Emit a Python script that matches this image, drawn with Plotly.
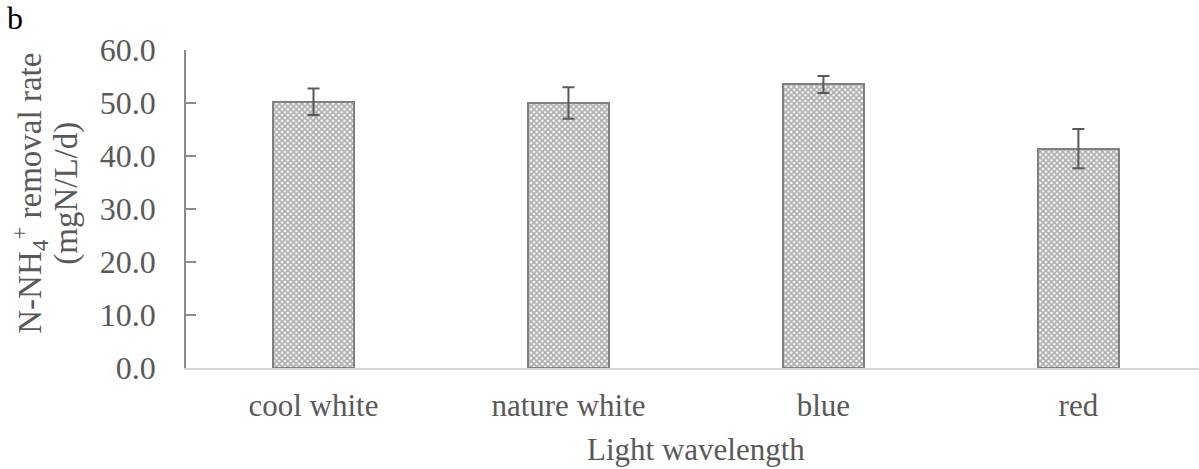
import plotly.graph_objects as go

# Ammonium removal rate under different light wavelengths
categories = ["cool white", "nature white", "blue", "red"]
removal_rate = [50.25, 50.0, 53.5, 41.4]
removal_err = [2.5, 2.95, 1.6, 3.7]
y_ticks = [0, 10, 20, 30, 40, 50, 60]
y_tick_text = [f"{v:.1f}" for v in y_ticks]

FONT = "Liberation Serif"
TEXT = "#595959"
W, H = 1199, 469
ML, MT, MB = 186, 50, 100.5
PW = W - ML
PH = H - MT - MB


def px_x(px):
    return (px - ML) / PW


def px_y(py):
    return 1 - (py - MT) / PH


fig = go.Figure()
fig.add_trace(go.Bar(
    x=list(range(len(categories))),
    y=removal_rate,
    width=0.318,
    marker=dict(
        color="white",
        line=dict(color="#808080", width=2),
        pattern=dict(shape="x", size=4, solidity=0.7,
                     fgcolor="#5e5e5e", bgcolor="white", fillmode="overlay"),
    ),
    error_y=dict(type="data", array=removal_err, visible=True,
                 color="#595959", thickness=2, width=6),
    showlegend=False,
))

fig.update_layout(
    width=W, height=H,
    margin=dict(l=ML, r=0, t=MT, b=MB),
    paper_bgcolor="white", plot_bgcolor="white",
    font=dict(family=FONT, color=TEXT, size=31),
    bargap=0,
)
fig.update_xaxes(
    range=[-0.5, 3.473],
    tickmode="array", tickvals=list(range(len(categories))), ticktext=categories,
    showline=True, linecolor="#d9d9d9", linewidth=2,
    showgrid=False, zeroline=False, ticks="",
    tickfont=dict(family=FONT, size=31, color=TEXT),
    ticklabelstandoff=9,
)
fig.update_yaxes(
    range=[0, 60],
    tickmode="array", tickvals=y_ticks, ticktext=y_tick_text,
    showline=True, linecolor="#8c8c8c", linewidth=1.5,
    ticks="inside", ticklen=10, tickcolor="#8c8c8c", tickwidth=1.5,
    showgrid=False, zeroline=False,
    tickfont=dict(family=FONT, size=32, color=TEXT),
    ticklabelstandoff=22,
)

# y-axis title, one annotation per line
for line, cx in [("N-NH<sub>4</sub><sup>+</sup> removal rate", 30),
                 ("(mgN/L/d)", 67)]:
    fig.add_annotation(
        text=line, textangle=-90,
        xref="paper", yref="paper", x=px_x(cx), y=px_y(194),
        xanchor="center", yanchor="middle",
        showarrow=False,
        font=dict(family=FONT, size=33, color=TEXT),
    )

fig.add_annotation(
    text="Light wavelength",
    xref="paper", yref="paper", x=px_x(696), y=0,
    xanchor="center", yanchor="top", yshift=-62,
    showarrow=False,
    font=dict(family=FONT, size=31, color=TEXT),
)
fig.add_annotation(
    text="b",
    xref="paper", yref="paper", x=px_x(0), y=1,
    xanchor="left", yanchor="bottom", xshift=5, yshift=12,
    showarrow=False,
    font=dict(family=FONT, size=32, color="black"),
)

fig.write_html("out.html")
